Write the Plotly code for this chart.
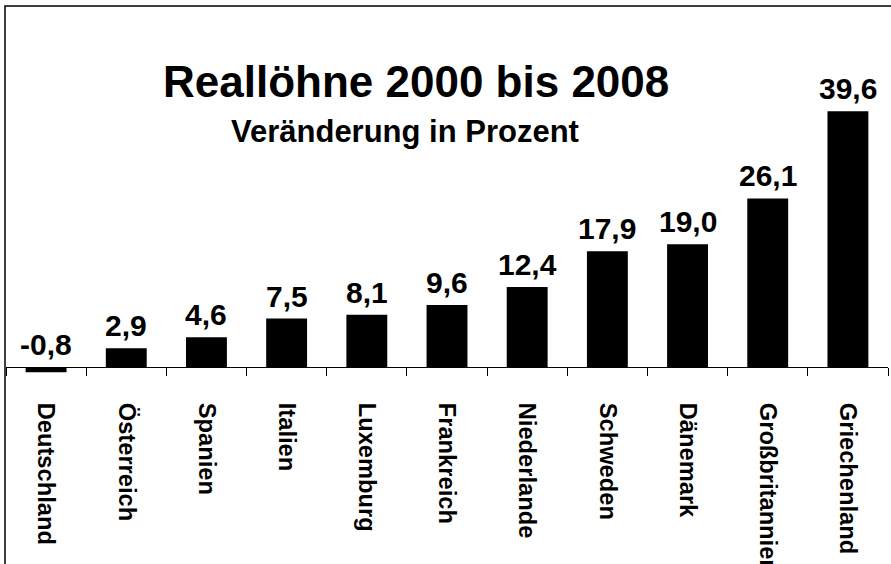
import plotly.graph_objects as go

countries = ["Deutschland", "Österreich", "Spanien", "Italien", "Luxemburg", "Frankreich",
             "Niederlande", "Schweden", "Dänemark", "Großbritannien", "Griechenland"]
values = [-0.8, 2.9, 4.6, 7.5, 8.1, 9.6, 12.4, 17.9, 19.0, 26.1, 39.6]
value_labels = [f"{v:.1f}".replace(".", ",") for v in values]
title_text = "Reallöhne 2000 bis 2008"
subtitle_text = "Veränderung in Prozent"

FONT = "Liberation Sans, Arial, Helvetica, sans-serif"
W, H = 891, 564
L, R = 6, 3
T_PX, B_PX = 20, 400
ZERO_PX = 367
PX_PER_UNIT = 6.46

ymax = (ZERO_PX - T_PX) / PX_PER_UNIT
ymin = -(B_PX - ZERO_PX) / PX_PER_UNIT


def px_x(px):
    return (px - L) / (W - L - R)


def px_y(py):
    return (B_PX - py) / (B_PX - T_PX)


fig = go.Figure(go.Bar(
    x=countries, y=values,
    marker=dict(color="black", line=dict(width=0)),
    width=0.51,
    hoverinfo="none",
))

annotations = []
for c, v, t in zip(countries, values, value_labels):
    annotations.append(dict(
        x=c, y=max(v, 0), xref="x", yref="y", text=f"<b>{t}</b>",
        showarrow=False, xanchor="center", yanchor="bottom", yshift=4,
        font=dict(family=FONT, size=30, color="black"),
    ))
annotations.append(dict(
    x=px_x(416), y=px_y(81), xref="paper", yref="paper", text=f"<b>{title_text}</b>",
    showarrow=False, xanchor="center", yanchor="middle",
    font=dict(family=FONT, size=44, color="black"),
))
annotations.append(dict(
    x=px_x(405), y=px_y(131), xref="paper", yref="paper", text=f"<b>{subtitle_text}</b>",
    showarrow=False, xanchor="center", yanchor="middle",
    font=dict(family=FONT, size=31, color="black"),
))

fig.update_layout(
    width=W, height=H,
    margin=dict(l=L, r=R, t=T_PX, b=H - B_PX, pad=0),
    paper_bgcolor="white", plot_bgcolor="white",
    template="none",
    showlegend=False,
    hovermode=False,
    annotations=annotations,
    shapes=[dict(type="rect", xref="paper", yref="paper",
                 x0=px_x(5), x1=px_x(W + 20), y0=px_y(H + 20), y1=px_y(6),
                 line=dict(color="black", width=1.5), fillcolor="rgba(0,0,0,0)", layer="above")],
    xaxis=dict(
        range=[-0.5, len(countries) - 0.5],
        anchor="free", position=px_y(ZERO_PX),
        showline=True, linecolor="black", linewidth=1,
        ticks="outside", tickson="boundaries", ticklen=8, tickcolor="black", tickwidth=1,
        tickangle=90, ticklabelstandoff=30,
        tickfont=dict(family=FONT, size=23.7, color="black"),
        tickprefix="<b>", ticksuffix="</b>",
        showgrid=False, zeroline=False, automargin=False, fixedrange=True,
    ),
    yaxis=dict(
        range=[ymin, ymax], visible=False, showgrid=False, zeroline=False,
        automargin=False, fixedrange=True,
    ),
)

fig.write_html(
    "out.html",
    config={"displayModeBar": False, "staticPlot": True},
    post_script="document.body.style.margin='0';document.body.style.overflow='hidden';"
                "document.documentElement.style.overflow='hidden';",
)
